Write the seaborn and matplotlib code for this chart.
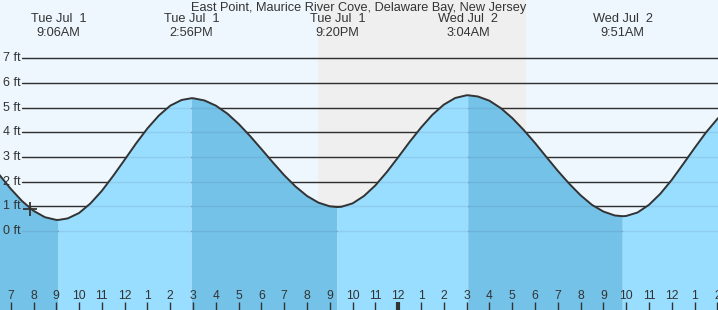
import numpy as np
import matplotlib
matplotlib.use("Agg")
import matplotlib.pyplot as plt
import seaborn as sns

# ---------------- data ----------------
title = "East Point, Maurice River Cove, Delaware Bay, New Jersey"

# tide height (ft), hours since midnight Jul 1
tide_hours = [6, 6.5, 7, 7.5, 8, 8.5, 9, 9.1, 9.5, 10, 10.5, 11, 11.5, 12, 12.5,
              13, 13.5, 14, 14.5, 14.93, 15, 15.5, 16, 16.5, 17, 17.5, 18, 18.5,
              19, 19.5, 20, 20.5, 21, 21.33, 21.5, 22, 22.5, 23, 23.5, 24, 24.5,
              25, 25.5, 26, 26.5, 27, 27.07, 27.5, 28, 28.5, 29, 29.5, 30, 30.5,
              31, 31.5, 32, 32.5, 33, 33.5, 33.85, 34, 34.5, 35, 35.5, 36, 36.5,
              37, 37.5, 38, 38.5]
tide_feet = [2.89, 2.28, 1.71, 1.21, 0.82, 0.56, 0.45, 0.45, 0.51, 0.73, 1.12,
             1.63, 2.24, 2.89, 3.55, 4.16, 4.68, 5.08, 5.31, 5.38, 5.38, 5.29,
             5.08, 4.76, 4.34, 3.85, 3.32, 2.78, 2.26, 1.80, 1.42, 1.15, 1.00,
             0.97, 0.98, 1.12, 1.42, 1.85, 2.39, 2.99, 3.61, 4.19, 4.71, 5.12,
             5.39, 5.50, 5.50, 5.45, 5.28, 4.98, 4.58, 4.10, 3.57, 3.00, 2.44,
             1.92, 1.45, 1.06, 0.79, 0.63, 0.60, 0.61, 0.75, 1.06, 1.51, 2.07,
             2.71, 3.36, 3.99, 4.54, 4.98]

# high / low tide events
event_hours = [9.1, 14.93, 21.33, 27.07, 33.85]
event_kind = ["L", "H", "L", "H", "L"]
event_dates = ["Tue Jul  1", "Tue Jul  1", "Tue Jul  1", "Wed Jul  2", "Wed Jul  2"]
event_times = ["9:06AM", "2:56PM", "9:20PM", "3:04AM", "9:51AM"]

sunset_hour = 20.48
sunrise_hour = 29.60

now_hour = 7.85
now_feet = 0.89

ft_levels = [0, 1, 2, 3, 4, 5, 6, 7]
ft_labels = ["0 ft", "1 ft", "2 ft", "3 ft", "4 ft", "5 ft", "6 ft", "7 ft"]

tick_hours = list(range(7, 39))
tick_labels = ["7", "8", "9", "10", "11", "12", "1", "2", "3", "4", "5", "6",
               "7", "8", "9", "10", "11", "12", "1", "2", "3", "4", "5", "6",
               "7", "8", "9", "10", "11", "12", "1", "2"]
midnight_hour = 24

# ---------------- style ----------------
sns.set_theme(style="white")
plt.rcParams["font.family"] = ["Liberation Sans", "DejaVu Sans"]

W, H = 718, 310
day_bg = "#eef7fe"
night_bg = "#efefef"
flood_col = "#99ddff"
ebb_col = "#74c2e8"
ink = "#333333"

fig = plt.figure(figsize=(W / 100, H / 100), dpi=100)
fig.patch.set_facecolor(day_bg)
ax = fig.add_axes([0, 0, 1, 1])
ax.set_facecolor(day_bg)
for s in ax.spines.values():
    s.set_visible(False)
ax.set_xticks([])
ax.set_yticks([])
ax.set_xlim(6.53, 38.03)
ax.set_ylim(-3.20, 9.36)

# night shading
ax.axvspan(sunset_hour, sunrise_hour, color=night_bg, lw=0, zorder=0.5)

# grid lines (dark, behind water)
for v in ft_levels:
    ax.axhline(v, xmin=22 / W, xmax=1, color=ink, lw=1.0, zorder=1)

# water fill, darker while falling
t = np.array(tide_hours)
h = np.array(tide_feet)
falling = np.zeros_like(t, dtype=bool)
rising = np.zeros_like(t, dtype=bool)
bounds = [-np.inf] + event_hours + [np.inf]
kinds = event_kind
for i in range(len(bounds) - 1):
    a, b = bounds[i], bounds[i + 1]
    seg = (t >= a) & (t <= b)
    # segment ending at a low is falling; ending at a high is rising
    if i < len(kinds):
        end_kind = kinds[i]
        if end_kind == "L":
            falling |= seg
        else:
            rising |= seg
    else:
        if kinds[-1] == "L":
            rising |= seg
        else:
            falling |= seg

ax.fill_between(t, h, -10, where=falling, color=ebb_col, lw=0, zorder=2)
ax.fill_between(t, h, -10, where=rising, color=flood_col, lw=0, zorder=2)

# faint grid lines seen through water
for v in ft_levels:
    ax.axhline(v, xmin=22 / W, xmax=1, color="black", alpha=0.07, lw=1.0, zorder=3)

# tide curve
sns.lineplot(x=t, y=h, color=ink, lw=1.4, zorder=4, ax=ax, sort=False,
             estimator=None)

# current-time marker
ax.plot([now_hour], [now_feet], marker="+", ms=10, mew=1.3, color=ink,
        zorder=5, ls="none")

# y labels
for v, lab in zip(ft_levels, ft_labels):
    ax.text(3 / W, v, lab, transform=ax.get_yaxis_transform(), ha="left",
            va="center", fontsize=9, color=ink, zorder=6)

# hour ticks and labels
xt = ax.get_xaxis_transform()
for hr, lab in zip(tick_hours, tick_labels):
    lw = 3.0 if hr == midnight_hour else 1.0
    ax.plot([hr, hr], [0, 8 / H], transform=xt, color=ink, lw=lw,
            solid_capstyle="butt", zorder=6)
    ax.text(hr, 14 / H, lab, transform=xt, ha="center", va="center",
            fontsize=8.7, color=ink, zorder=6)

# event labels
for hr, d, tm in zip(event_hours, event_dates, event_times):
    ax.text(hr, 1 - 19.5 / H, d, transform=xt, ha="center", va="center",
            fontsize=9.2, color=ink, zorder=6)
    ax.text(hr, 1 - 32.5 / H, tm, transform=xt, ha="center", va="center",
            fontsize=9.2, color=ink, zorder=6)

fig.text(0.5, 1 - 7.5 / H, title, ha="center", va="center", fontsize=9.2,
         color=ink)

fig.savefig("out.png", dpi=100, facecolor=day_bg)
